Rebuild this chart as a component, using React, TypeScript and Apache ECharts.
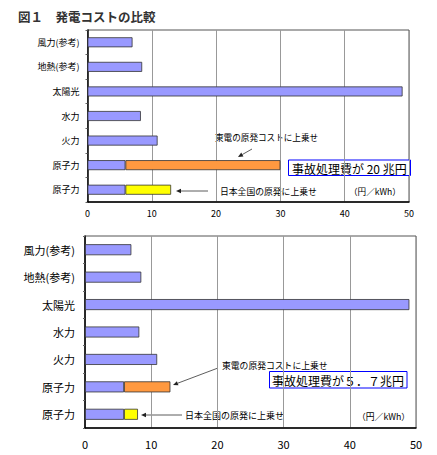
import React, { useEffect, useRef } from 'react';
import * as echarts from 'echarts';

const categories = ['風力(参考)', '地熱(参考)', '太陽光', '水力', '火力', '原子力', '原子力'];
// top chart (accident cost 20 trillion yen)
const baseTop = [7.0, 8.5, 49.0, 8.3, 10.9, 5.9, 5.9];
const tepcoTop = [null, null, null, null, null, 24.1, null];
const nationalTop = [null, null, null, null, null, null, 7.1];
// bottom chart (accident cost 5.7 trillion yen)
const baseBottom = [7.0, 8.5, 49.0, 8.2, 10.9, 5.9, 5.9];
const tepcoBottom = [null, null, null, null, null, 7.0, null];
const nationalBottom = [null, null, null, null, null, null, 2.1];
const xMin = 0;
const xMax = 50;
const xInterval = 10;

const FONT = '"Noto Sans CJK JP", "Noto Sans", sans-serif';

function arrow(x1: number, y1: number, x2: number, y2: number) {
  const dx = x2 - x1;
  const dy = y2 - y1;
  const len = Math.sqrt(dx * dx + dy * dy);
  const ux = dx / len;
  const uy = dy / len;
  const hl = 5;
  const hw = 2.2;
  const bx = x2 - ux * hl;
  const by = y2 - uy * hl;
  return [
    { type: 'line', shape: { x1, y1, x2: bx, y2: by }, style: { stroke: '#333', lineWidth: 0.8 } },
    {
      type: 'polygon',
      shape: { points: [[x2, y2], [bx - uy * hw, by + ux * hw], [bx + uy * hw, by - ux * hw]] },
      style: { fill: '#222' },
    },
  ];
}

function txt(x: number, y: number, text: string, size: number, extra: any = {}) {
  return {
    type: 'text',
    x,
    y,
    style: { text, fontSize: size, fontFamily: FONT, fill: '#000', textVerticalAlign: 'middle', ...extra },
  };
}

export default function App() {
  const ref = useRef<HTMLDivElement>(null);
  useEffect(() => {
    document.body.style.margin = '0';
    const chart = echarts.init(ref.current!, null, { renderer: 'svg' });
    const barStyle = (color: string) => ({ color, borderColor: '#333', borderWidth: 0.8 });
    const mkSeries = (idx: number, base: any[], tepco: any[], nat: any[], bw: number) => [
      { type: 'bar', xAxisIndex: idx, yAxisIndex: idx, stack: 's' + idx, data: base, barWidth: bw, itemStyle: barStyle('#9999FF') },
      { type: 'bar', xAxisIndex: idx, yAxisIndex: idx, stack: 's' + idx, data: tepco, barWidth: bw, itemStyle: barStyle('#FF9940') },
      { type: 'bar', xAxisIndex: idx, yAxisIndex: idx, stack: 's' + idx, data: nat, barWidth: bw, itemStyle: barStyle('#FFFF00') },
    ];
    const xAx = (idx: number, size: number, margin: number) => ({
      type: 'value',
      gridIndex: idx,
      min: xMin,
      max: xMax,
      interval: xInterval,
      axisLine: { show: true, lineStyle: { color: '#000', width: 1.5 } },
      axisTick: { show: false },
      axisLabel: { fontSize: size, color: '#000', fontFamily: FONT, margin },
      splitLine: { show: true, lineStyle: { color: '#999', width: 1 } },
    });
    const yAx = (idx: number, size: number, margin: number) => ({
      type: 'category',
      gridIndex: idx,
      inverse: true,
      data: categories,
      axisLine: { show: true, lineStyle: { color: '#000', width: 1.5 } },
      axisTick: { show: true, length: 2, lineStyle: { color: '#666' } },
      axisLabel: { fontSize: size, color: '#000', fontFamily: FONT, margin },
      splitLine: { show: false },
    });
    chart.setOption({
      animation: false,
      backgroundColor: '#fff',
      grid: [
        { left: 87.5, top: 30, width: 321.5, height: 172, show: true, borderColor: '#555', borderWidth: 1 },
        { left: 85, top: 236, width: 331, height: 192, show: true, borderColor: '#555', borderWidth: 1 },
      ],
      xAxis: [xAx(0, 9, 7), xAx(1, 11, 10)],
      yAxis: [yAx(0, 9, 8), yAx(1, 11, 10)],
      series: [...mkSeries(0, baseTop, tepcoTop, nationalTop, 10), ...mkSeries(1, baseBottom, tepcoBottom, nationalBottom, 11)],
      graphic: [
        txt(18, 16, '図１　発電コストの比較', 12.5, { fontWeight: 'bold', fill: '#333' }),
        // top annotations
        txt(215, 137, '東電の原発コストに上乗せ', 8.6),
        ...arrow(252, 149, 238, 157),
        { type: 'rect', shape: { x: 288.5, y: 160, width: 122, height: 15.5 }, style: { fill: '#fff', stroke: '#0000ff', lineWidth: 1 } },
        txt(292, 168, '事故処理費が 20 兆円', 12),
        txt(220, 191, '日本全国の原発に上乗せ', 8.8),
        ...arrow(208, 191, 176, 191),
        txt(349, 191, '（円／kWh）', 8.6),
        // bottom annotations
        txt(222, 365, '東電の原発コストに上乗せ', 8.8),
        ...arrow(218, 368, 173, 385),
        { type: 'rect', shape: { x: 269.5, y: 371.5, width: 137.5, height: 16.5 }, style: { fill: '#fff', stroke: '#0000ff', lineWidth: 1 } },
        txt(272, 380, '事故処理費が５．７兆円', 12),
        txt(185, 415, '日本全国の原発に上乗せ', 9),
        ...arrow(182, 415, 141, 415),
        txt(357, 416, '（円／kWh）', 8.8),
      ],
    });
    return () => chart.dispose();
  }, []);
  return <div ref={ref} style={{ width: 437, height: 455 }} />;
}
